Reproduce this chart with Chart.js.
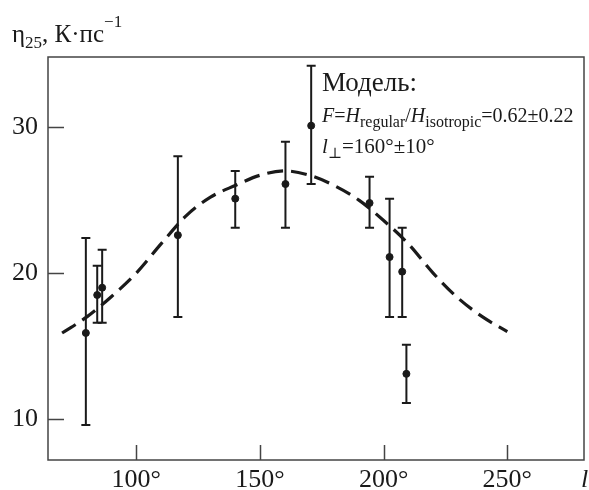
<!DOCTYPE html>
<html>
<head>
<meta charset="utf-8">
<script src="https://cdn.jsdelivr.net/npm/chart.js@4"></script>
<style>
  body { margin: 0; background: #fff; }
  #wrap { position: relative; width: 589px; height: 490px; overflow: hidden; font-family: 'Liberation Serif', 'DejaVu Serif', serif; color: #1a1a1a; }
  #wrap canvas { position: absolute; left: 0; top: 0; }
  .txt { position: absolute; line-height: 1; white-space: nowrap; }
  .txt sub, .txt sup { line-height: 0; }
</style>
</head>
<body>
<div id="wrap">
  <canvas id="myChart" width="589" height="490"></canvas>
  <div class="txt" style="left:12px; top:21px; font-size:25px;">η<sub style="font-size:17px;">25</sub>, К·пс<sup style="font-size:17px; position:relative; top:-6px;">−1</sup></div>
  <div class="txt" style="left:322px; top:69px; font-size:27px;">Модель:</div>
  <div class="txt" style="left:322px; top:105px; font-size:20px;"><i>F</i>=<i>H</i><sub style="font-size:16px;">regular</sub>/<i>H</i><sub style="font-size:16px;">isotropic</sub>=0.62±0.22</div>
  <div class="txt" style="left:322px; top:136px; font-size:21px;"><i>l</i><sub style="font-size:15px;">⊥</sub>=160°±10°</div>
  <div class="txt" style="left:581px; top:466px; font-size:26px;"><i>l</i></div>
</div>
<script>
// observed points (longitude, eta, error bar low / high)
const lon = [79.6, 84.2, 86.2, 116.8, 140.0, 160.3, 170.7, 194.3, 202.4, 207.5, 209.2];
const eta = [15.9, 18.5, 19.0, 22.6, 25.1, 26.1, 30.1, 24.8, 21.1, 20.1, 13.1];
const etaLow = [9.6, 16.6, 16.6, 17.0, 23.1, 23.1, 26.1, 23.1, 17.0, 17.0, 11.1];
const etaHigh = [22.4, 20.5, 21.6, 28.0, 27.0, 29.0, 34.2, 26.6, 25.1, 23.1, 15.1];

// model curve
const modelLon = [70, 80, 90, 100, 110, 120, 130, 140, 150, 160, 170, 180, 190, 200, 210, 220, 230, 240, 250];
const modelEta = [15.9, 17.0, 18.4, 20.0, 22.0, 23.9, 25.2, 26.0, 26.7, 27.0, 26.7, 26.0, 25.0, 23.6, 22.0, 20.0, 18.3, 17.0, 16.0];

const xTicks = [100, 150, 200, 250];
const yTicks = [10, 20, 30];

const ink = '#1a1a1a';

const errorBars = {
  id: 'errorBars',
  afterDatasetsDraw(chart) {
    const { ctx, scales: { x, y } } = chart;
    ctx.save();
    ctx.strokeStyle = ink;
    ctx.lineWidth = 2;
    for (let i = 0; i < lon.length; i++) {
      const px = x.getPixelForValue(lon[i]);
      const lo = y.getPixelForValue(etaLow[i]);
      const hi = y.getPixelForValue(etaHigh[i]);
      ctx.beginPath();
      ctx.moveTo(px, lo);
      ctx.lineTo(px, hi);
      ctx.moveTo(px - 4.5, lo);
      ctx.lineTo(px + 4.5, lo);
      ctx.moveTo(px - 4.5, hi);
      ctx.lineTo(px + 4.5, hi);
      ctx.stroke();
    }
    ctx.restore();
  },
};

// frame and inward tick marks
const frame = {
  id: 'frame',
  afterDraw(chart) {
    const { ctx, chartArea: a, scales: { x, y } } = chart;
    ctx.save();
    ctx.strokeStyle = '#444';
    ctx.lineWidth = 1.5;
    ctx.strokeRect(a.left, a.top, a.right - a.left, a.bottom - a.top);
    ctx.beginPath();
    for (const t of x.ticks) {
      const px = Math.round(x.getPixelForValue(t.value)) + 0.5;
      ctx.moveTo(px, a.bottom);
      ctx.lineTo(px, a.bottom - 15);
    }
    for (const t of y.ticks) {
      const py = Math.round(y.getPixelForValue(t.value)) + 0.5;
      ctx.moveTo(a.left, py);
      ctx.lineTo(a.left + 16, py);
    }
    ctx.stroke();
    ctx.restore();
  },
};

new Chart(document.getElementById('myChart'), {
  data: {
    datasets: [
      {
        type: 'line',
        data: modelLon.map((v, i) => ({ x: v, y: modelEta[i] })),
        borderColor: ink,
        borderWidth: 3.2,
        borderDash: [16, 8],
        pointRadius: 0,
        cubicInterpolationMode: 'monotone',
        fill: false,
      },
      {
        type: 'scatter',
        data: lon.map((v, i) => ({ x: v, y: eta[i] })),
        backgroundColor: ink,
        borderColor: ink,
        pointRadius: 3.5,
        pointStyle: 'circle',
      },
    ],
  },
  options: {
    responsive: false,
    animation: false,
    layout: { padding: { top: 57, right: 1, left: 0, bottom: 0 } },
    plugins: { legend: { display: false }, tooltip: { enabled: false } },
    scales: {
      x: {
        type: 'linear',
        min: 64.3,
        max: 281,
        afterBuildTicks: (axis) => { axis.ticks = xTicks.map((v) => ({ value: v })); },
        afterFit: (axis) => { axis.height = 30; },
        grid: { display: false, drawTicks: false },
        border: { display: false },
        ticks: {
          padding: 5,
          color: ink,
          font: { family: 'Liberation Serif', size: 26 },
          callback: (v) => v + '°',
        },
      },
      y: {
        type: 'linear',
        min: 7.2,
        max: 34.8,
        afterBuildTicks: (axis) => { axis.ticks = yTicks.map((v) => ({ value: v })); },
        afterFit: (axis) => { axis.width = 48; },
        grid: { display: false, drawTicks: false },
        border: { display: false },
        ticks: {
          padding: 10,
          color: ink,
          font: { family: 'Liberation Serif', size: 26 },
        },
      },
    },
  },
  plugins: [errorBars, frame],
});
</script>
</body>
</html>
